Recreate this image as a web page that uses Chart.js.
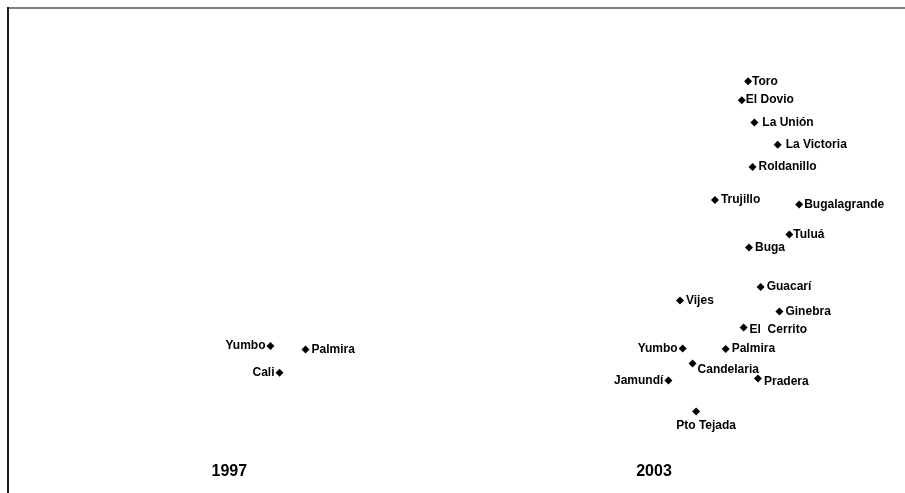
<!DOCTYPE html>
<html lang="es">
<head>
  <meta charset="UTF-8" />
  <title>Municipios 1997 - 2003</title>
  <script src="https://cdn.jsdelivr.net/npm/chart.js"></script>
  <style>
    body {
      margin: 0;
      padding: 0;
      background: #fff;
      overflow: hidden;
    }

    .chart-container {
      width: 908px;
      height: 497px;
    }
  </style>
</head>
<body>

  <div class="chart-container"><canvas id="mapChart"></canvas></div>

  <script>
    // 1997
    const names1997 = ['Yumbo', 'Palmira', 'Cali'];
    const x1997 = [29.3, 33.2, 30.3];
    const y1997 = [30.3, 29.6, 24.8];

    // 2003
    const names2003 = ['Toro', 'El Dovio', 'La Unión', 'La Victoria', 'Roldanillo', 'Trujillo',
      'Bugalagrande', 'Tuluá', 'Buga', 'Guacarí', 'Vijes', 'Ginebra', 'El  Cerrito', 'Yumbo',
      'Palmira', 'Candelaria', 'Jamundí', 'Pradera', 'Pto Tejada'];
    const x2003 = [82.6, 81.9, 83.3, 85.9, 83.1, 78.9, 88.3, 87.2, 82.7, 84.0, 75.0, 86.1, 82.1,
      75.3, 80.1, 76.4, 73.7, 83.7, 76.8];
    const y2003 = [84.9, 81.0, 76.4, 71.8, 67.2, 60.4, 59.5, 53.3, 50.6, 42.5, 39.7, 37.4, 34.1,
      29.8, 29.7, 26.7, 23.2, 23.6, 16.8];

    const years = ['1997', '2003'];
    const yearX = [24.7, 72.1];
    const yearY = [4.5, 4.5];

    const toPoints = (xs, ys) => xs.map((x, i) => ({ x: x, y: ys[i] }));

    // where each label sits next to its marker
    const labelLeft = ['Yumbo', 'Cali', 'Jamundí'];
    const labelGap = { 'Toro': 4, 'El Dovio': 4, 'Tuluá': 4, 'Bugalagrande': 5, 'La Unión': 8, 'La Victoria': 8 };

    const pointLabels = {
      id: 'pointLabels',
      afterDatasetsDraw(chart) {
        const ctx = chart.ctx;
        ctx.save();
        ctx.fillStyle = '#000';
        ctx.font = 'bold 12px "Liberation Sans", Arial, sans-serif';
        ctx.textBaseline = 'middle';
        chart.data.datasets.forEach((ds, di) => {
          const meta = chart.getDatasetMeta(di);
          meta.data.forEach((pt, i) => {
            const name = ds.names[i];
            if (name === 'Pto Tejada') {
              ctx.textAlign = 'center';
              ctx.fillText(name, pt.x + 10, pt.y + 14);
            } else if (name === 'Candelaria') {
              ctx.textAlign = 'left';
              ctx.fillText(name, pt.x + 5, pt.y + 6);
            } else if (name === 'Pradera') {
              ctx.textAlign = 'left';
              ctx.fillText(name, pt.x + 6, pt.y + 3);
            } else if (labelLeft.includes(name)) {
              ctx.textAlign = 'right';
              ctx.fillText(name, pt.x - 5, pt.y);
            } else {
              ctx.textAlign = 'left';
              const gap = labelGap[name] !== undefined ? labelGap[name] : 6;
              ctx.fillText(name, pt.x + gap, pt.y + (name === 'El  Cerrito' ? 2 : 0));
            }
          });
        });

        // year captions
        ctx.font = 'bold 16px "Liberation Sans", Arial, sans-serif';
        ctx.textAlign = 'center';
        years.forEach((yr, i) => {
          ctx.fillText(yr, chart.scales.x.getPixelForValue(yearX[i]), chart.scales.y.getPixelForValue(yearY[i]));
        });
        ctx.restore();
      }
    };

    const dotStyle = {
      pointStyle: 'rectRot',
      pointRadius: 4,
      pointHoverRadius: 4,
      backgroundColor: '#000',
      borderColor: '#000',
      borderWidth: 0
    };

    new Chart(document.getElementById('mapChart').getContext('2d'), {
      type: 'scatter',
      data: {
        datasets: [
          Object.assign({ label: '1997', names: names1997, data: toPoints(x1997, y1997) }, dotStyle),
          Object.assign({ label: '2003', names: names2003, data: toPoints(x2003, y2003) }, dotStyle)
        ]
      },
      options: {
        responsive: true,
        maintainAspectRatio: false,
        animation: false,
        layout: { padding: { left: 8, top: 8, right: 0, bottom: 0 } },
        scales: {
          x: {
            type: 'linear',
            position: 'top',
            min: 0,
            max: 100,
            ticks: { display: false },
            grid: { display: false, drawTicks: false },
            border: { display: true, color: '#808080', width: 2 }
          },
          y: {
            type: 'linear',
            position: 'left',
            min: 0,
            max: 100,
            ticks: { display: false },
            grid: { display: false, drawTicks: false },
            border: { display: true, color: '#1a1a1a', width: 2 }
          }
        },
        plugins: {
          legend: { display: false },
          tooltip: { enabled: false }
        }
      },
      plugins: [pointLabels]
    });
  </script>

</body>
</html>
